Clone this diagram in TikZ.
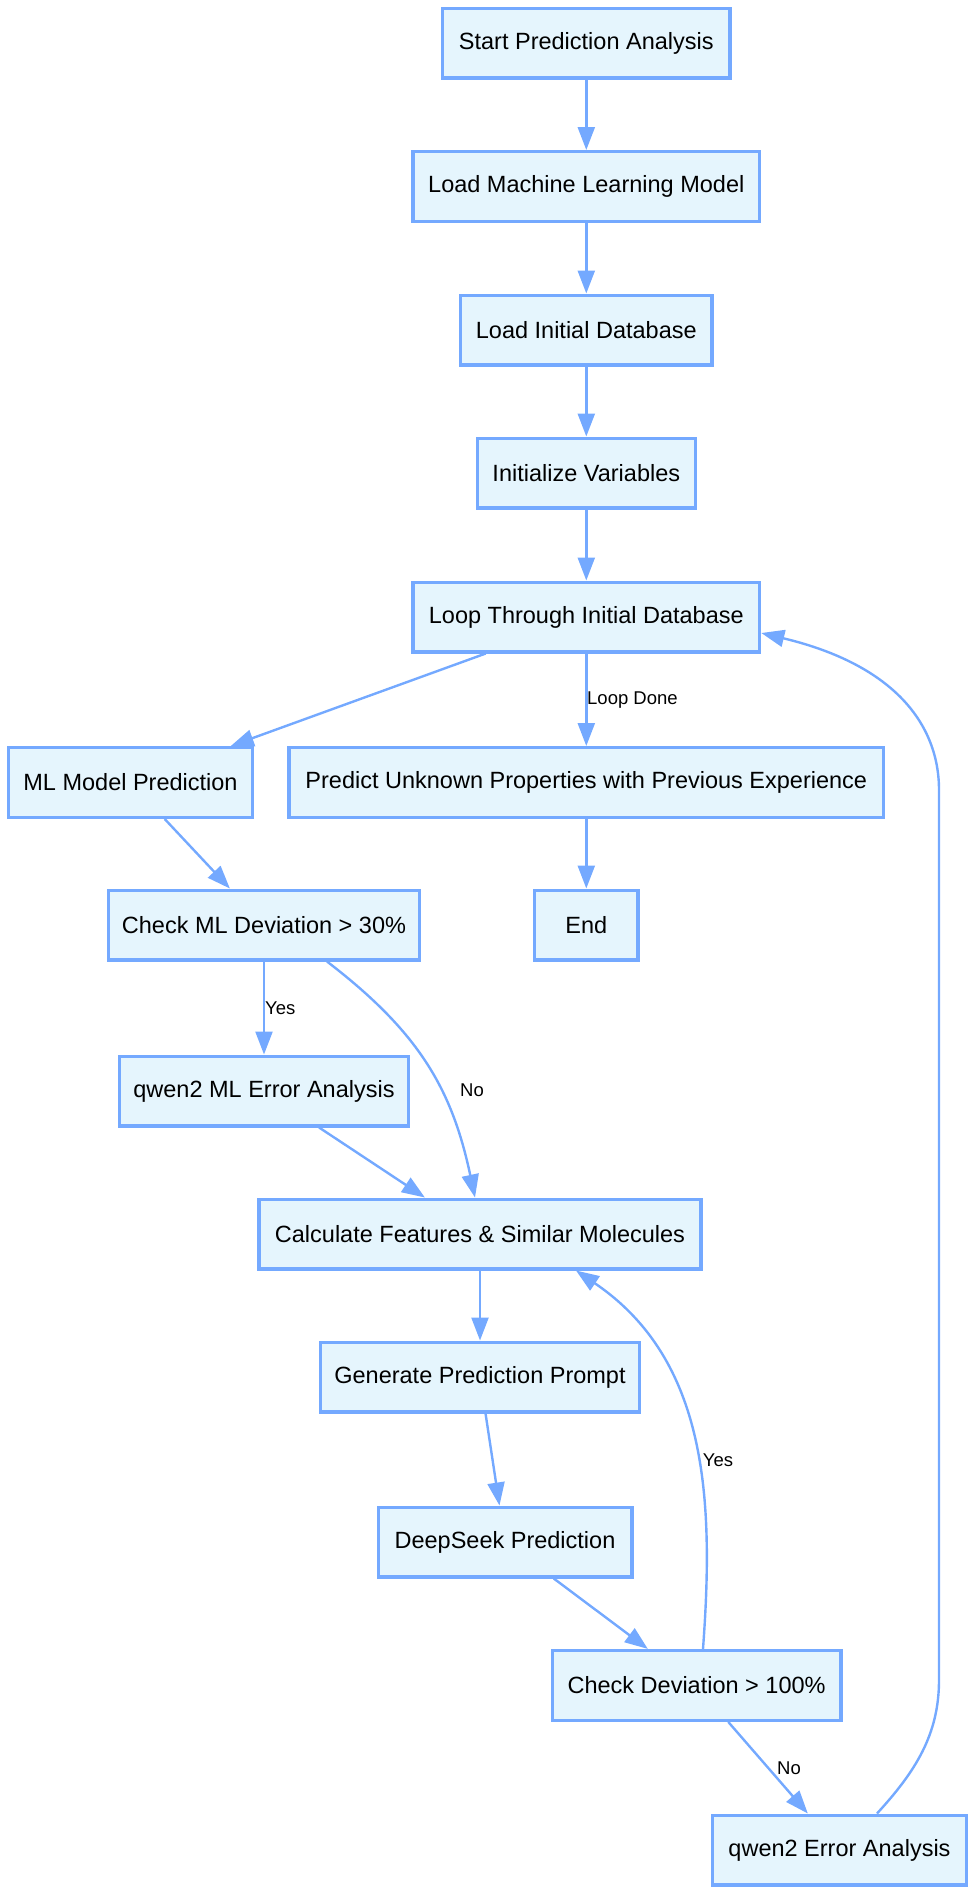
\documentclass[tikz,border=0pt]{standalone}
\usepackage{fontspec}
\setmainfont{Liberation Sans}
\usetikzlibrary{arrows.meta}
\definecolor{boxline}{HTML}{74A9FF}
\definecolor{boxfill}{HTML}{E5F5FD}
\begin{document}
\begin{tikzpicture}[x=1pt,y=-1pt,
  box/.style={draw=boxline, fill=boxfill, line width=3.4pt, inner sep=0pt,
    minimum height=69.6pt, font=\fontsize{23.5}{28}\selectfont, text=black},
  edge/.style={draw=boxline, line width=2.4pt, -{Triangle[length=23pt,width=17pt]}},
  elabel/.style={font=\fontsize{18.5}{22}\selectfont, inner sep=0pt, text=black}]
\useasboundingbox (0,0) rectangle (974,1893);

\node[box, minimum width=287.6pt] (start)    at (586.3,43.3)  {Start Prediction Analysis};
\node[box, minimum width=346.6pt] (loadml)   at (586.3,186.5) {Load Machine Learning Model};
\node[box, minimum width=251.1pt] (loaddb)   at (586.3,330)   {Load Initial Database};
\node[box, minimum width=218.2pt] (initvar)  at (586.3,473)   {Initialize Variables};
\node[box, minimum width=346.6pt] (loop)     at (586.3,617)   {Loop Through Initial Database};
\node[box, minimum width=244.2pt] (mlpred)   at (130.5,782.5) {ML Model Prediction};
\node[box, minimum width=594.6pt] (predict)  at (586.3,782.5) {Predict Unknown Properties with Previous Experience};
\node[box, minimum width=311.2pt] (checkml)  at (264,925)     {Check ML Deviation > 30\%};
\node[box, minimum width=103.6pt] (end)      at (586.3,925)   {End};
\node[box, minimum width=288.6pt] (qwenml)   at (264,1091)    {qwen2 ML Error Analysis};
\node[box, minimum width=442.3pt] (calc)     at (480,1234)    {Calculate Features \& Similar Molecules};
\node[box, minimum width=318.6pt] (gen)      at (480,1377)    {Generate Prediction Prompt};
\node[box, minimum width=253.6pt] (deep)     at (505,1542)    {DeepSeek Prediction};
\node[box, minimum width=288.6pt] (checkdev) at (696.6,1685.4){Check Deviation > 100\%};
\node[box, minimum width=254.2pt] (qwenerr)  at (839.5,1850)  {qwen2 Error Analysis};

\draw[edge] (start) -- (loadml);
\draw[edge] (loadml) -- (loaddb);
\draw[edge] (loaddb) -- (initvar);
\draw[edge] (initvar) -- (loop);
\draw[edge] (loop) -- (mlpred);
\draw[edge] (loop) -- (predict);
\draw[edge] (predict) -- (end);
\draw[edge] (mlpred) -- (checkml);
\draw[edge] (checkml) -- (qwenml);
\draw[edge] ([xshift=63pt]checkml.south) .. controls (419,1032) and (452,1089) .. ([xshift=-5pt]calc.north);
\draw[edge] (qwenml) -- (calc);
\draw[edge] (calc) -- (gen);
\draw[edge] (gen) -- (deep);
\draw[edge] (deep) -- (checkdev);
\draw[edge] ([xshift=6.4pt]checkdev.north) .. controls (714,1500) and (708,1360) .. ([xshift=96pt]calc.south);
\draw[edge] (checkdev) -- (qwenerr);
\draw[edge] ([xshift=37.5pt]qwenerr.north) .. controls (915,1772) and (939,1735) .. (939,1680)
  -- (939,790) .. controls (939,725) and (895,665) .. ([yshift=-16pt]loop.east);

\node[elabel, anchor=west] (lloopdone) at (587,700) {Loop Done};
\node[elabel, anchor=west] (lyes1) at (265,1008) {Yes};
\node[elabel] (lno1) at (472,1090) {No};
\node[elabel] (lyes2) at (718,1460) {Yes};
\node[elabel] (lno2) at (789,1768) {No};
\end{tikzpicture}
\end{document}
